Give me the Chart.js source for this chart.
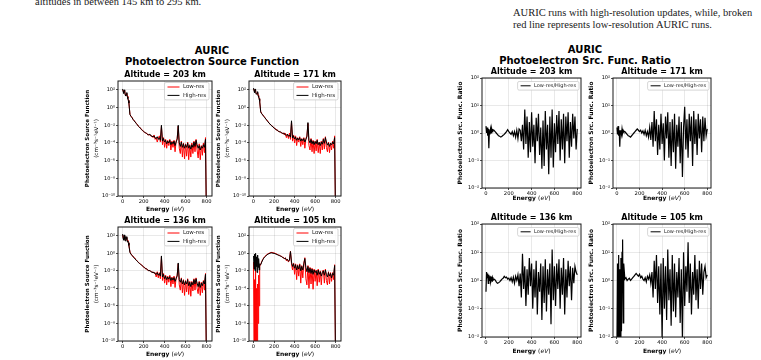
<!DOCTYPE html>
<html>
<head>
<meta charset="utf-8">
<script src="https://cdn.jsdelivr.net/npm/chart.js@4.4.0/dist/chart.umd.min.js"></script>
<style>
  body { margin: 0; width: 761px; height: 360px; overflow: hidden; background: #fff; position: relative; }
  .page { position: absolute; font-family: "Liberation Serif", serif; font-size: 10.5px; color: #1a1a1a; white-space: nowrap; line-height: 11.5px; }
  .sup { position: absolute; font-family: "DejaVu Sans", sans-serif; font-weight: bold; font-size: 10px; line-height: 11px; text-align: center; color: #000; }
  canvas { position: absolute; }
</style>
</head>
<body>
<div class="page" style="left:35px;top:-4px">altitudes in between 145 km to 295 km.</div>
<div class="page" style="left:513px;top:7px">AURIC runs with high-resolution updates, while, broken<br>red line represents low-resolution AURIC runs.</div>
<div class="sup" style="left:112px;top:45px;width:200px">AURIC<br>Photoelectron Source Function</div>
<div class="sup" style="left:485px;top:44px;width:200px">AURIC<br>Photoelectron Src. Func. Ratio</div>

<script>
// energy grid (eV)
const energy = [0, 5, 10, 15, 20, 25, 30, 35, 40, 45, 50, 55, 60,
  70, 80, 90, 100,
  110, 120, 130, 140, 150, 160, 170, 180, 190, 200,
  210, 220, 230, 240, 250, 260, 270, 280, 290, 300,
  310, 320, 330, 340, 350, 360, 370, 380, 390, 400,
  410, 420, 430, 440, 450, 460, 470, 480, 490, 500,
  510, 520, 530, 540, 550, 560, 570, 580, 590, 600,
  610, 620, 630, 640, 650, 660, 670, 680, 690, 700,
  710, 720, 730, 740, 750, 760, 770, 780, 790, 800];

// photoelectron source function, log10 values
const high203 = [2.1, 1.8, 1.6, 2.0, 1.9, 1.4, 1.3, 1.5, 1.7, 1.2, 1.0, 0.8, 0.5,
  -0.8, -1.0, -1.15, -1.35,
  -1.5, -1.65, -1.8, -1.95, -2.1, -2.2, -2.35, -2.5, -2.6, -2.7,
  -2.8, -2.85, -2.95, -3.05, -3.1, -3.0, -3.2, -3.25, -3.3, -3.2,
  -3.45, -3.5, -3.3, -3.6, -3.4, -3.7, -2.0, -3.8, -3.5, -3.9,
  -3.7, -4.1, -3.8, -4.0, -3.7, -4.2, -3.9, -4.1, -3.8, -4.3,
  -3.9, -3.6, -2.0, -4.0, -4.4, -3.9, -4.5, -4.1, -4.6, -4.2,
  -4.5, -4.0, -4.6, -4.3, -4.7, -4.2, -4.5, -3.9, -4.4, -3.7,
  -4.2, -4.6, -4.3, -4.8, -4.4, -4.6, -4.2, -4.5, -3.6, -14];
const low203 = [2.0, 1.9, 1.7, 1.9, 1.8, 1.5, 1.4, 1.4, 1.6, 1.3, 1.1, 0.8, 0.5,
  -0.75, -1.0, -1.1, -1.35,
  -1.5, -1.6, -1.8, -1.9, -2.1, -2.25, -2.3, -2.5, -2.55, -2.75,
  -2.8, -2.9, -2.9, -3.1, -3.05, -3.1, -3.25, -3.2, -3.4, -3.1,
  -3.6, -3.4, -3.9, -3.5, -3.2, -3.9, -2.1, -4.2, -3.4, -4.5,
  -3.6, -4.6, -3.7, -4.3, -3.6, -4.8, -3.8, -4.5, -3.7, -5.0,
  -3.8, -3.5, -2.1, -4.6, -5.2, -3.8, -5.6, -4.0, -5.8, -4.1,
  -5.5, -3.9, -5.9, -4.2, -5.6, -4.0, -5.2, -3.8, -5.0, -3.6,
  -4.8, -5.7, -4.1, -5.9, -4.3, -5.4, -4.0, -5.1, -3.4, -14];

const high171 = [2.2, 1.9, 1.7, 2.1, 2.0, 1.5, 1.5, 1.6, 1.8, 1.3, 1.2, 1.0, 0.7,
  -0.5, -0.7, -0.85, -1.0,
  -1.15, -1.3, -1.45, -1.6, -1.75, -1.85, -2.0, -2.1, -2.2, -2.3,
  -2.4, -2.5, -2.55, -2.65, -2.75, -2.7, -2.85, -2.9, -2.95, -2.9,
  -3.1, -3.15, -3.0, -3.25, -3.1, -3.35, -1.5, -3.45, -3.2, -3.55,
  -3.35, -3.7, -3.45, -3.65, -3.4, -3.8, -3.55, -3.75, -3.5, -3.9,
  -3.6, -3.3, -1.7, -3.7, -4.0, -3.6, -4.1, -3.8, -4.2, -3.85,
  -4.1, -3.7, -4.2, -3.95, -4.3, -3.9, -4.15, -3.6, -4.05, -3.4,
  -3.9, -4.25, -4.0, -4.4, -4.05, -4.2, -3.9, -4.1, -3.4, -14];
const low171 = [2.1, 2.0, 1.8, 2.0, 1.9, 1.6, 1.6, 1.5, 1.7, 1.4, 1.3, 1.0, 0.7,
  -0.45, -0.7, -0.8, -1.0,
  -1.1, -1.3, -1.4, -1.6, -1.7, -1.9, -1.95, -2.1, -2.15, -2.35,
  -2.35, -2.55, -2.5, -2.7, -2.7, -2.8, -2.8, -2.95, -2.85, -3.1,
  -2.9, -3.4, -3.0, -3.5, -2.9, -3.6, -1.6, -3.8, -3.1, -4.0,
  -3.2, -4.3, -3.4, -3.9, -3.3, -4.4, -3.5, -4.2, -3.4, -4.6,
  -3.5, -3.2, -1.8, -4.3, -4.8, -3.5, -5.0, -3.7, -5.2, -3.8,
  -4.9, -3.6, -5.1, -3.9, -5.2, -3.8, -4.8, -3.5, -4.7, -3.3,
  -4.5, -5.0, -3.9, -5.1, -4.0, -4.8, -3.8, -4.6, -3.2, -14];

const high136 = [2.2, 1.7, 1.5, 2.1, 1.6, 1.4, 1.9, 1.6, 1.9, 1.3, 1.4, 1.2, 0.9,
  0.1, -0.1, -0.25, -0.4,
  -0.5, -0.65, -0.8, -0.9, -1.05, -1.15, -1.25, -1.35, -1.45, -1.55,
  -1.65, -1.75, -1.8, -1.9, -2.0, -1.95, -2.1, -2.15, -2.2, -2.15,
  -2.35, -2.4, -2.2, -2.5, -2.3, -2.6, -0.3, -2.7, -2.4, -2.9,
  -2.6, -3.0, -2.7, -2.95, -2.65, -3.1, -2.8, -3.05, -2.75, -3.2,
  -2.9, -2.6, -1.1, -3.0, -3.3, -2.9, -3.5, -3.1, -3.6, -3.2,
  -3.5, -3.0, -3.7, -3.3, -3.8, -3.3, -3.6, -3.0, -3.5, -2.9,
  -3.4, -3.8, -3.3, -3.9, -3.4, -3.7, -3.2, -3.5, -2.4, -14];
const low136 = [2.1, 1.8, 1.6, 2.0, 1.7, 1.5, 1.8, 1.7, 1.8, 1.4, 1.5, 1.2, 0.9,
  0.15, -0.1, -0.2, -0.4,
  -0.45, -0.65, -0.75, -0.9, -1.0, -1.15, -1.2, -1.35, -1.4, -1.6,
  -1.6, -1.8, -1.75, -1.95, -1.95, -2.0, -2.05, -2.2, -2.1, -2.3,
  -2.2, -2.7, -2.1, -2.8, -2.2, -2.9, -0.4, -3.1, -2.3, -3.4,
  -2.5, -3.6, -2.6, -3.3, -2.5, -3.8, -2.7, -3.5, -2.6, -3.9,
  -2.8, -2.5, -1.2, -3.6, -4.2, -2.8, -4.5, -3.0, -4.8, -3.1,
  -4.4, -2.9, -4.7, -3.2, -4.9, -3.2, -4.3, -2.9, -4.2, -2.8,
  -4.0, -4.6, -3.2, -4.8, -3.3, -4.5, -3.1, -4.2, -2.3, -14];

const high105 = [-0.3, -1.8, -0.1, -2.0, 0.0, -1.5, -0.4, -2.2, -0.2, -1.6, -0.6, -1.9, -1.2,
  -1.3, -1.0, -0.75, -0.55,
  -0.4, -0.3, -0.2, -0.1, -0.05, 0.0, 0.05, 0.05, 0.0, 0.0,
  -0.05, -0.1, -0.15, -0.2, -0.25, -0.3, -0.35, -0.45, -0.5, -0.6,
  -0.55, -0.75, -0.7, -0.9, -0.8, 0.2, -1.0, -1.5, -1.2, -1.7,
  -1.3, -1.9, -1.4, -1.8, -1.3, -2.0, -1.5, -1.9, -1.2, -0.6,
  -1.6, -2.1, -1.5, -2.2, -1.7, -2.3, -1.8, -2.4, -1.9, -2.2,
  -2.0, -2.5, -1.9, -2.4, -2.1, -2.6, -2.2, -2.0, -2.5, -1.9,
  -2.4, -2.7, -2.2, -2.6, -2.3, -2.8, -2.3, -2.5, -1.4, -14];
const low105 = [-1.0, -10.5, -3.0, -11, -2.0, -10.5, -4.0, -11, -3.5, -8.0, -2.5, -6.0, -1.5,
  -1.25, -0.95, -0.7, -0.5,
  -0.35, -0.25, -0.15, -0.05, 0.0, 0.05, 0.1, 0.1, 0.05, 0.05,
  0.0, -0.05, -0.1, -0.2, -0.2, -0.3, -0.3, -0.45, -0.45, -0.65,
  -0.5, -0.85, -0.65, -1.0, -0.75, 0.25, -1.2, -1.9, -1.1, -2.4,
  -1.2, -3.0, -1.3, -2.6, -1.2, -3.4, -1.4, -2.8, -1.1, -0.5,
  -2.9, -3.6, -1.4, -4.0, -1.6, -3.5, -1.7, -4.1, -1.8, -3.2,
  -1.9, -3.7, -1.8, -3.3, -2.0, -3.6, -2.1, -1.9, -3.4, -1.8,
  -3.1, -3.6, -2.1, -3.5, -2.2, -3.2, -2.2, -3.0, -1.3, -14];

// low-res / high-res ratio, log10 values
const ratio203 = [0.25, 0.0, 0.2, -0.1, 0.15, -0.55, 0.1, -0.05, 0.15, 0.0, 0.15, 0.05, 0.12,
  0.1, 0.05, 0.0, -0.05,
  -0.1, -0.12, -0.15, -0.12, -0.08, -0.05, 0.0, 0.05, 0.12, 0.05,
  0.0, -0.05, 0.05, -0.1, 0.05, -0.15, 0.1, -0.2, 0.15, 0.1,
  -0.3, 0.3, -0.6, 0.85, -0.4, 0.6, -0.9, 0.4, -0.7, 0.75,
  -0.5, 0.3, -1.1, 0.55, -0.3, 0.7, -0.8, 0.2, -1.3, 0.45,
  -1.2, 0.8, -0.6, 0.3, -1.5, 0.6, -0.9, 0.85, -1.25, 0.35,
  -0.7, 0.65, -0.4, 0.8, -1.0, 0.5, -0.6, 0.7, -1.1, 0.6,
  -0.3, 0.75, -0.9, 0.4, -0.5, 0.7, -0.2, 0.6, -0.6, 0.15];
const ratio171 = [0.2, -0.05, 0.25, -0.1, 0.1, -0.5, 0.05, 0.1, -0.05, 0.15, 0.0, 0.1, 0.05,
  0.05, 0.0, -0.05, -0.1,
  -0.12, -0.15, -0.1, -0.05, 0.0, 0.05, 0.1, 0.15, 0.1, 0.05,
  0.1, 0.0, 0.08, -0.05, 0.1, -0.1, 0.05, -0.15, 0.2, -0.25,
  0.4, -0.5, 0.8, -0.3, 0.5, -0.8, 0.3, -0.6, 0.7, -0.4,
  0.35, -1.0, 0.6, -0.2, 0.75, -0.9, 0.4, -1.2, 0.5, -0.7,
  0.7, -1.3, 0.3, -0.5, 0.6, -1.1, 0.4, -1.6, 0.2, 0.95,
  -0.6, 0.5, -0.9, 0.7, -0.3, 0.6, -1.2, 0.8, -0.4, 0.5,
  -0.8, 0.7, -0.2, 0.5, -0.7, 0.6, -0.3, 0.55, -0.1, 0.15];
const ratio136 = [-0.4, 0.3, 0.1, 0.25, -0.1, 0.2, 0.0, 0.15, -0.05, 0.1, 0.05, 0.12, 0.0,
  0.05, 0.02, -0.05, -0.1,
  -0.08, -0.05, 0.0, 0.05, 0.08, 0.15, 0.1, 0.12, 0.05, 0.08,
  0.0, 0.1, -0.05, 0.12, -0.1, 0.15, 0.0, 0.2, -0.2, 0.25,
  -0.6, 0.95, -0.3, 0.5, -0.9, 0.4, -0.5, 0.8, -0.2, 0.6,
  -1.0, 0.4, -0.6, 0.7, -1.2, 0.3, -0.4, 0.6, -1.4, 0.5,
  -0.8, 0.75, -1.1, 0.4, -0.5, 0.6, -1.55, 1.1, -0.7, 0.5,
  -0.9, 0.6, -0.3, 0.75, -1.0, 0.45, -0.5, 0.8, -1.2, 0.4,
  -0.6, 0.7, -0.2, 0.5, -0.7, 0.45, -0.1, 0.5, 0.3, 0.2];
const ratio105 = [-2.5, 0.6, -2.5, 0.9, -2.3, 0.4, -2.5, 0.8, -1.8, 1.0, 1.45, -1.5, 0.6,
  0.05, 0.1, 0.0, 0.05,
  0.08, 0.0, 0.05, 0.1, 0.15, 0.2, 0.25, 0.2, 0.15, 0.22,
  0.1, 0.15, 0.05, 0.0, 0.1, -0.05, 0.15, 0.05, 0.2, -0.1,
  0.3, -0.6, 0.7, -0.3, 0.9, -0.8, 0.5, -1.2, 0.6, -2.1,
  0.8, -1.0, 0.5, -1.4, 1.1, -0.7, 0.4, -1.6, 0.9, -1.1,
  0.6, -1.3, 0.3, -0.6, 0.8, -1.5, 0.4, -2.1, 1.0, -0.9,
  0.5, -0.4, 1.35, -0.8, 0.6, -1.2, 0.3, -0.5, 0.9, -0.7,
  0.4, -1.0, 0.7, -0.3, 0.6, -0.5, 0.3, 0.5, 0.1, 0.2];

const xTicks = [0, 200, 400, 600, 800];
const psfTicks = [1e-10, 1e-8, 1e-6, 1e-4, 1e-2, 1, 1e2];
const psfTickLabels = ['10⁻¹⁰', '10⁻⁸', '10⁻⁶', '10⁻⁴', '10⁻²', '10⁰', '10²'];
const ratioTicks = [1e-2, 1e-1, 1, 1e1, 1e2];
const ratioTickLabels = ['10⁻²', '10⁻¹', '10⁰', '10¹', '10²'];

const FONT = '"DejaVu Sans"';
const YW = 40, PT = 14, PR = 4, XH = 20;

function pts(exps) {
  return exps.map((v, i) => ({x: energy[i], y: Math.pow(10, v)}));
}

function drawParts(c, parts, size, cx, cy) {
  let total = 0;
  parts.forEach(p => { c.font = p[1] + ' ' + size + 'px ' + FONT; p.w = c.measureText(p[0]).width; total += p.w; });
  let x = cx - total / 2;
  c.textAlign = 'left';
  parts.forEach(p => { c.font = p[1] + ' ' + size + 'px ' + FONT; c.fillText(p[0], x, cy); x += p.w; });
}

const panelDeco = {
  id: 'panelDeco',
  afterDraw(chart) {
    const o = chart.options.plugins.panelDeco;
    const a = chart.chartArea;
    const c = chart.ctx;
    c.save();
    c.strokeStyle = '#1a1a1a';
    c.lineWidth = 1;
    c.strokeRect(a.left, a.top, a.right - a.left, a.bottom - a.top);

    c.fillStyle = '#000';
    c.textBaseline = 'middle';
    c.textAlign = 'center';
    c.font = 'bold 8px ' + FONT;
    c.fillText(o.title, (a.left + a.right) / 2, a.top - 6);

    drawParts(c, [['Energy ', 'bold'], ['(', 'normal'], ['eV', 'italic'], [')', 'normal']], 6,
      (a.left + a.right) / 2, a.bottom + o.xTitleGap);

    o.yTitle.forEach((line, i) => {
      c.save();
      c.translate(a.left - o.yTitleX[i], (a.top + a.bottom) / 2);
      c.rotate(-Math.PI / 2);
      c.textAlign = 'center';
      c.font = line[1] + ' ' + o.yTitleSize + 'px ' + FONT;
      c.fillText(line[0], 0, 0);
      c.restore();
    });

    const L = o.legend;
    c.font = L.size + 'px ' + FONT;
    const tw = Math.max(...L.items.map(it => c.measureText(it[0]).width));
    const bw = 3 + L.handle + 3.5 + tw + 3;
    const bh = L.items.length * L.rowH + 0.6;
    const bx = a.right - L.dx - bw, by = a.top + L.dy;
    c.beginPath();
    c.roundRect(bx, by, bw, bh, 1.5);
    c.fillStyle = 'rgba(255,255,255,0.85)';
    c.fill();
    c.strokeStyle = '#cccccc';
    c.lineWidth = 0.8;
    c.stroke();
    L.items.forEach((it, i) => {
      const yy = by + 0.3 + L.rowH * (i + 0.5);
      c.beginPath();
      c.moveTo(bx + 3, yy);
      c.lineTo(bx + 3 + L.handle, yy);
      c.strokeStyle = it[1];
      c.lineWidth = 1;
      c.stroke();
      c.fillStyle = '#222';
      c.textAlign = 'left';
      c.fillText(it[0], bx + 3 + L.handle + 3.5, yy);
    });
    c.restore();
  }
};

function addPanel(box, p) {
  const cv = document.createElement('canvas');
  const W = box.r - box.l + YW + PR, H = box.b - box.t + PT + XH;
  cv.width = W;
  cv.height = H;
  cv.style.left = (box.l - YW) + 'px';
  cv.style.top = (box.t - PT) + 'px';
  document.body.appendChild(cv);

  new Chart(cv, {
    type: 'line',
    data: {datasets: p.datasets},
    options: {
      responsive: false,
      animation: false,
      devicePixelRatio: 1,
      layout: {padding: {left: 0, top: PT, right: PR, bottom: 0}},
      elements: {point: {radius: 0}, line: {tension: 0}},
      plugins: {
        legend: {display: false},
        tooltip: {enabled: false},
        panelDeco: p.deco
      },
      scales: {
        x: {
          type: 'linear', min: p.xMin, max: p.xMax,
          border: {display: false},
          grid: {color: 'rgba(0,0,0,0.11)', lineWidth: 0.8, tickLength: 2, tickColor: '#222', tickWidth: 0.8},
          ticks: {font: {family: FONT, size: 5.2}, color: '#000', padding: 1, maxRotation: 0, autoSkip: false},
          afterBuildTicks: s => { s.ticks = xTicks.map(v => ({value: v})); },
          afterFit: s => { s.height = XH; s.paddingLeft = 0; s.paddingRight = 0; }
        },
        y: {
          type: 'logarithmic', min: p.yMin, max: p.yMax,
          border: {display: false},
          grid: {color: 'rgba(0,0,0,0.11)', lineWidth: 0.8, tickLength: 2, tickColor: '#222', tickWidth: 0.8},
          ticks: {
            font: {family: FONT, size: 5}, color: '#000', padding: 1, autoSkip: false,
            callback: (v, i) => p.yLabels[i]
          },
          afterBuildTicks: s => { s.ticks = p.yTicks.map(v => ({value: v})); },
          afterFit: s => { s.width = YW; s.paddingTop = 0; s.paddingBottom = 0; }
        }
      }
    },
    plugins: [panelDeco]
  });
}

function psfPanel(box, title, high, low, xGap) {
  addPanel(box, {
    xMin: -44, xMax: 852, yMin: 1e-10, yMax: 1e3,
    yTicks: psfTicks, yLabels: psfTickLabels,
    datasets: [
      {label: 'High-res', data: pts(high), borderColor: '#000000', borderWidth: 1},
      {label: 'Low-res', data: pts(low), borderColor: '#ff0000', borderWidth: 1}
    ],
    deco: {
      title: title, xTitleGap: xGap,
      yTitle: [['Photoelectron Source Function', 'bold'], ['(cm⁻³s⁻¹eV⁻¹)', 'normal']],
      yTitleX: [30, 21.5], yTitleSize: 5.6,
      legend: {items: [['Low-res', '#ff0000'], ['High-res', '#000000']], size: 5.5, handle: 12, rowH: 8.4, dx: 3, dy: 1.5}
    }
  });
}

function ratioPanel(box, title, ratio, xGap) {
  addPanel(box, {
    xMin: -35, xMax: 833, yMin: 1e-2, yMax: 1e2,
    yTicks: ratioTicks, yLabels: ratioTickLabels,
    datasets: [
      {label: 'Low-res/High-res', data: pts(ratio), borderColor: '#000000', borderWidth: 1.2}
    ],
    deco: {
      title: title, xTitleGap: xGap,
      yTitle: [['Photoelectron Src. Func. Ratio', 'bold']],
      yTitleX: [21.5], yTitleSize: 6,
      legend: {items: [['Low-res/High-res', '#000000']], size: 5, handle: 10, rowH: 8, dx: 2, dy: 3.5}
    }
  });
}

psfPanel({l: 118, t: 81, r: 212, b: 196}, 'Altitude = 203 km', high203, low203, 13.5);
psfPanel({l: 249, t: 81, r: 341, b: 196}, 'Altitude = 171 km', high171, low171, 13.5);
psfPanel({l: 118, t: 227, r: 212, b: 341}, 'Altitude = 136 km', high136, low136, 13);
psfPanel({l: 249, t: 227, r: 341, b: 341}, 'Altitude = 105 km', high105, low105, 13);

ratioPanel({l: 482, t: 78, r: 581, b: 188}, 'Altitude = 203 km', ratio203, 10);
ratioPanel({l: 613, t: 78, r: 711, b: 188}, 'Altitude = 171 km', ratio171, 10);
ratioPanel({l: 482, t: 224, r: 581, b: 337}, 'Altitude = 136 km', ratio136, 14.5);
ratioPanel({l: 613, t: 224, r: 711, b: 337}, 'Altitude = 105 km', ratio105, 14.5);
</script>
</body>
</html>
